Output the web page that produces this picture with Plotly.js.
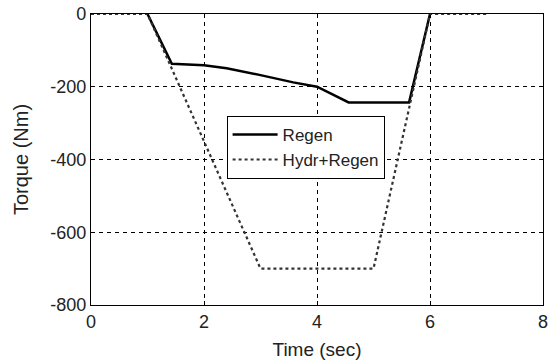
<!DOCTYPE html>
<html>
<head>
<meta charset="utf-8">
<script src="https://cdn.plot.ly/plotly-3.0.1.min.js"></script>
<style>
html,body{margin:0;padding:0;background:#fff;}
#chart{width:553px;height:364px;}
</style>
</head>
<body>
<div id="chart"></div>
<script>
const regenTime = [1.0, 1.43, 2.0, 2.4, 3.0, 3.58, 4.0, 4.29, 4.56, 5.63, 6.0];
const regenTorque = [0, -137, -141, -149, -168, -188, -200, -223, -243, -243, 0];
const hydrTime = [0, 1.0, 3.0, 5.0, 6.0, 7.0];
const hydrTorque = [0, 0, -700, -700, 0, 0];
const xTicks = [0, 2, 4, 6, 8];
const yTicks = [-800, -600, -400, -200, 0];
const seriesNames = ['Regen', 'Hydr+Regen'];

const traces = [
  {x: regenTime, y: regenTorque, name: seriesNames[0], mode: 'lines',
   line: {color: '#000', width: 2.5}},
  {x: hydrTime, y: hydrTorque, name: seriesNames[1], mode: 'lines',
   line: {color: '#333', width: 2.2, dash: 'dot'}}
];

const layout = {
  width: 553, height: 364,
  margin: {l: 91, r: 10, t: 14, b: 59},
  paper_bgcolor: '#fff', plot_bgcolor: '#fff',
  font: {family: 'Liberation Sans, Arial, sans-serif', color: '#222', size: 18},
  xaxis: {
    range: [0, 8], tickvals: xTicks, ticktext: xTicks.map(String),
    showgrid: true, gridcolor: '#000', griddash: '4px,4px', gridwidth: 1,
    zeroline: false, showline: true, linecolor: '#000', linewidth: 1.2, mirror: true,
    ticks: 'inside', ticklen: 4, tickcolor: '#000',
    tickfont: {size: 18},
    title: {text: 'Time (sec)', font: {size: 19}, standoff: 12}
  },
  yaxis: {
    range: [-800, 0], tickvals: yTicks, ticktext: yTicks.map(String),
    showgrid: true, gridcolor: '#000', griddash: '4px,4px', gridwidth: 1,
    zeroline: false, showline: true, linecolor: '#000', linewidth: 1.2, mirror: true,
    ticks: 'inside', ticklen: 4, tickcolor: '#000',
    tickfont: {size: 18},
    title: {text: 'Torque (Nm)', font: {size: 20}, standoff: 16}
  },
  showlegend: true,
  legend: {
    x: 0.30, y: 0.65, xanchor: 'left', yanchor: 'top',
    bgcolor: '#fff', bordercolor: '#000', borderwidth: 1,
    itemwidth: 45,
    font: {size: 17, color: '#222'}, tracegroupgap: 0
  }
};

Plotly.newPlot('chart', traces, layout, {displayModeBar: false, staticPlot: true});
</script>
</body>
</html>
